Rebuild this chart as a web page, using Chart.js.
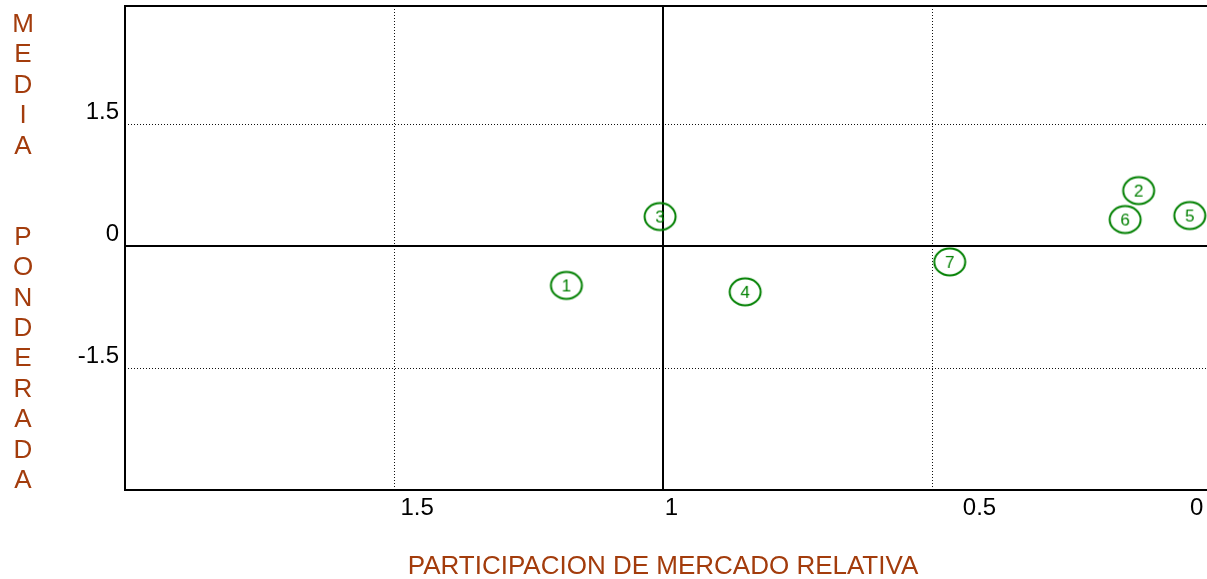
<!DOCTYPE html>
<html>
<head>
<meta charset="utf-8">
<script src="https://cdn.jsdelivr.net/npm/chart.js@4"></script>
<style>
  html, body { margin: 0; padding: 0; background: #ffffff; }
  #wrap { width: 1207px; height: 579px; position: relative; }
</style>
</head>
<body>
<div id="wrap"><canvas id="matriz" width="1207" height="579"></canvas></div>
<script>
// Products plotted on the relative share / weighted average matrix
const productLabels = ['1', '2', '3', '4', '5', '6', '7'];
const participacionRelativa = [1.180, 0.117, 1.006, 0.848, 0.022, 0.142, 0.468];
const mediaPonderada = [-0.485, 0.681, 0.362, -0.564, 0.374, 0.325, -0.196];

// Axis ticks
const xTickValues = [1.5, 1, 0.5, 0];
const xTickLabels = ['1.5', '1', '0.5', '0'];
const yTickValues = [1.5, 0, -1.5];
const yTickLabels = ['1.5', '0', '-1.5'];

// Axis titles
const xTitle = 'PARTICIPACION DE MERCADO RELATIVA';
const yTitle = 'MEDIA  PONDERADA';

const GREEN = 'rgb(0,128,0)';
const BROWN = '#A33C0C';
const FONT = '"Liberation Sans", Arial, sans-serif';

// Each product is marked with a small numbered ellipse
function makeMarker(text) {
  const c = document.createElement('canvas');
  c.width = 36; c.height = 32;
  const g = c.getContext('2d');
  g.strokeStyle = GREEN;
  g.lineWidth = 2;
  g.beginPath();
  g.ellipse(18, 16, 15.5, 13.5, 0, 0, Math.PI * 2);
  g.stroke();
  g.fillStyle = GREEN;
  g.font = '17px ' + FONT;
  g.textAlign = 'center';
  g.textBaseline = 'alphabetic';
  g.fillText(text, 18, 22);
  return c;
}
const markers = productLabels.map(makeMarker);

// Frame, quadrant lines, dotted guides, tick labels and titles
const matrixFrame = {
  id: 'matrixFrame',
  beforeDatasetsDraw(chart) {
    const { ctx, chartArea: a, scales: { x, y } } = chart;
    ctx.save();
    // dotted guides
    ctx.strokeStyle = '#111';
    ctx.lineWidth = 1;
    ctx.setLineDash([1, 2]);
    [1.5, 0.5].forEach(v => {
      const px = Math.round(x.getPixelForValue(v)) + 0.5;
      ctx.beginPath(); ctx.moveTo(px, a.top); ctx.lineTo(px, a.bottom); ctx.stroke();
    });
    [1.5, -1.5].forEach(v => {
      const py = Math.round(y.getPixelForValue(v)) + 0.5;
      ctx.beginPath(); ctx.moveTo(a.left, py); ctx.lineTo(a.right, py); ctx.stroke();
    });
    ctx.setLineDash([]);
    ctx.strokeStyle = '#000';
    ctx.lineWidth = 2;
    // quadrant dividers
    const x1 = Math.round(x.getPixelForValue(1));
    ctx.beginPath(); ctx.moveTo(x1, a.top); ctx.lineTo(x1, a.bottom); ctx.stroke();
    const y0 = Math.round(y.getPixelForValue(0));
    ctx.beginPath(); ctx.moveTo(a.left, y0); ctx.lineTo(a.right, y0); ctx.stroke();
    // frame: left, top, bottom
    ctx.beginPath();
    ctx.moveTo(a.right, a.top); ctx.lineTo(a.left, a.top);
    ctx.lineTo(a.left, a.bottom); ctx.lineTo(a.right, a.bottom);
    ctx.stroke();
    ctx.restore();
  },
  afterDraw(chart) {
    const { ctx, chartArea: a, scales: { x, y } } = chart;
    ctx.save();
    ctx.fillStyle = '#000';
    ctx.font = '24px ' + FONT;
    ctx.textBaseline = 'alphabetic';
    // x tick labels sit a little right of their guides
    const xShift = { '1.5': 23, '1': 8, '0.5': 47, '0': -5 };
    ctx.textAlign = 'center';
    xTickValues.forEach((v, i) => {
      ctx.fillText(xTickLabels[i], x.getPixelForValue(v) + xShift[xTickLabels[i]], a.bottom + 25);
    });
    // y tick labels sit just above their guides
    ctx.textAlign = 'right';
    yTickValues.forEach((v, i) => {
      ctx.fillText(yTickLabels[i], a.left - 6, y.getPixelForValue(v) - 4.5);
    });
    // titles
    ctx.fillStyle = BROWN;
    ctx.font = '26px ' + FONT;
    ctx.textAlign = 'center';
    ctx.fillText(xTitle, 663, 574);
    const letters = yTitle.split('');
    letters.forEach((ch, i) => {
      if (ch !== ' ') ctx.fillText(ch, 23, 32 + i * 30.4);
    });
    ctx.restore();
  }
};

new Chart(document.getElementById('matriz'), {
  type: 'scatter',
  data: {
    datasets: [{
      label: 'Productos',
      data: participacionRelativa.map((v, i) => ({ x: v, y: mediaPonderada[i] })),
      pointStyle: markers,
      pointRadius: 16,
      pointHoverRadius: 16,
      backgroundColor: 'transparent',
      borderColor: GREEN,
      clip: false
    }]
  },
  options: {
    responsive: false,
    animation: false,
    devicePixelRatio: 1,
    layout: { autoPadding: false, padding: { left: 125, top: 6, right: 0, bottom: 89 } },
    plugins: { legend: { display: false }, tooltip: { enabled: false } },
    scales: {
      x: { type: 'linear', display: false, reverse: true, min: -0.01, max: 2 },
      y: { type: 'linear', display: false, min: -3, max: 2.95 }
    }
  },
  plugins: [matrixFrame]
});
</script>
</body>
</html>
